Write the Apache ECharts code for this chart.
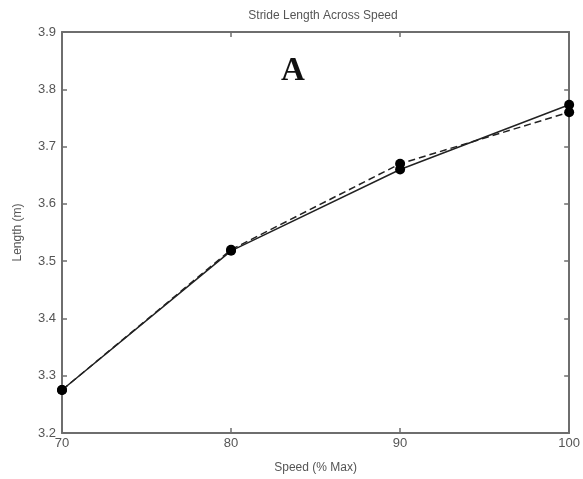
<!DOCTYPE html>
<html>
<head>
<meta charset="utf-8">
<script src="https://cdn.jsdelivr.net/npm/echarts@6/dist/echarts.min.js"></script>
<style>
  html, body { margin: 0; padding: 0; background: #fff; }
  #chart { width: 583px; height: 479px; }
</style>
</head>
<body>
<div id="chart"></div>
<script>
// Speed as % of maximum
const speeds = [70, 80, 90, 100];
// Stride length (m), two conditions
const strideSolid = [3.275, 3.518, 3.660, 3.773];
const strideDashed = [3.275, 3.520, 3.670, 3.760];
// Axis tick values
const xTicks = [70, 80, 90, 100];
const yTicks = [3.2, 3.3, 3.4, 3.5, 3.6, 3.7, 3.8, 3.9];

const axisGray = '#6e6e6e';
const textGray = '#555';
const font = 'Liberation Sans, Arial, sans-serif';

const chart = echarts.init(document.getElementById('chart'), null, { renderer: 'canvas' });

function pairs(vals) {
  return speeds.map((s, i) => [s, vals[i]]);
}

const xBase = {
  type: 'value', min: xTicks[0], max: xTicks[xTicks.length - 1], interval: 10,
  axisLine: { show: true, onZero: false, lineStyle: { color: axisGray, width: 2 } },
  axisTick: { show: true, inside: true, length: 5, lineStyle: { color: axisGray, width: 1.5 } },
  splitLine: { show: false }
};
const yBase = {
  type: 'value', min: yTicks[0], max: yTicks[yTicks.length - 1], interval: 0.1,
  axisLine: { show: true, onZero: false, lineStyle: { color: axisGray, width: 2 } },
  axisTick: { show: true, inside: true, length: 5, lineStyle: { color: axisGray, width: 1.5 } },
  splitLine: { show: false }
};

chart.setOption({
  animation: false,
  backgroundColor: '#fff',
  title: [
    {
      text: 'Stride Length Across Speed',
      left: 318, top: 5, textAlign: 'center',
      textStyle: { fontFamily: font, fontSize: 12, fontWeight: 'normal', color: textGray }
    },
    {
      text: 'A',
      left: 288, top: 50, textAlign: 'center',
      textStyle: { fontFamily: 'Liberation Serif, Times New Roman, serif', fontSize: 33, fontWeight: 'bold', color: '#111' }
    }
  ],
  grid: { left: 62, right: 9, top: 32, bottom: 46, containLabel: false },
  xAxis: [
    Object.assign({}, xBase, {
      position: 'bottom',
      name: 'Speed (% Max)', nameLocation: 'middle', nameGap: 29,
      nameTextStyle: { fontFamily: font, fontSize: 12, color: textGray },
      axisLabel: {
        show: true, margin: 4, fontFamily: font, fontSize: 13, color: textGray,
        formatter: v => String(v)
      }
    }),
    Object.assign({}, xBase, { position: 'top', axisLabel: { show: false } })
  ],
  yAxis: [
    Object.assign({}, yBase, {
      position: 'left',
      name: 'Length (m)', nameLocation: 'middle', nameGap: 38,
      nameTextStyle: { fontFamily: font, fontSize: 12, color: textGray },
      axisLabel: {
        show: true, margin: 6, fontFamily: font, fontSize: 13, color: textGray,
        formatter: v => v.toFixed(1)
      }
    }),
    Object.assign({}, yBase, { position: 'right', axisLabel: { show: false } })
  ],
  series: [
    {
      type: 'line', data: pairs(strideDashed),
      symbol: 'circle', symbolSize: 10,
      itemStyle: { color: '#000' },
      lineStyle: { color: '#222', width: 1.5, type: [7, 4] },
      z: 3
    },
    {
      type: 'line', data: pairs(strideSolid),
      symbol: 'circle', symbolSize: 10,
      itemStyle: { color: '#000' },
      lineStyle: { color: '#222', width: 1.5, type: 'solid' },
      z: 4
    }
  ]
});
</script>
</body>
</html>
